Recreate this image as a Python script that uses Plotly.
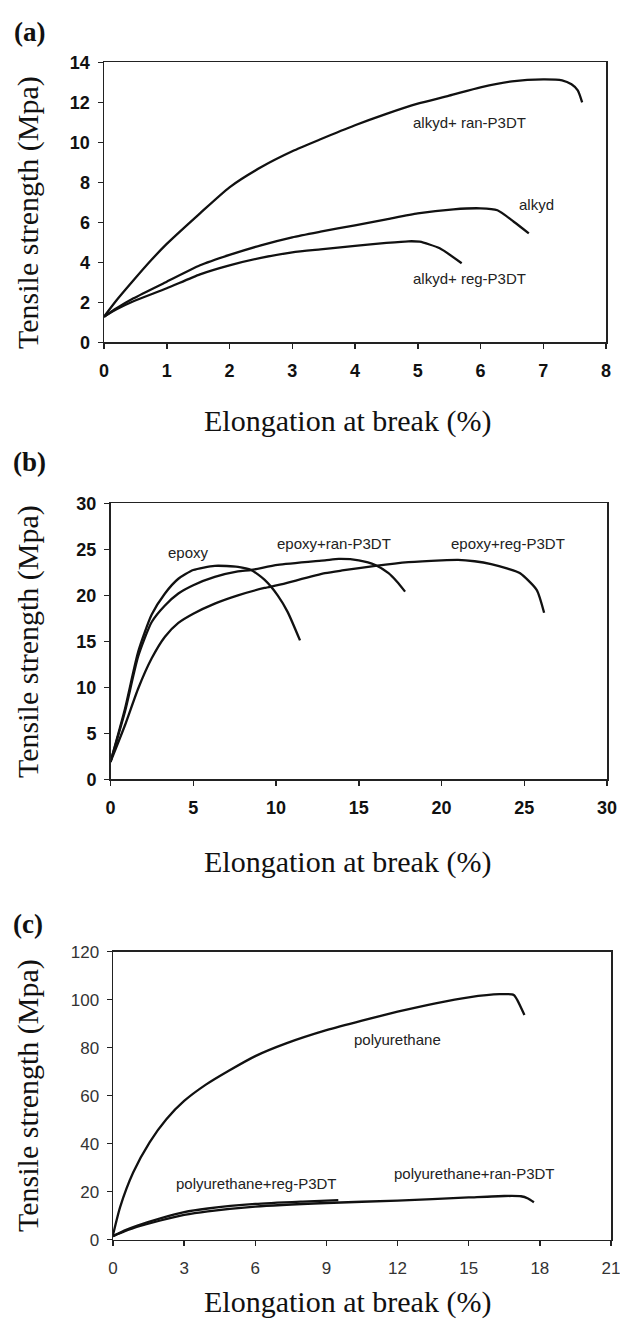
import plotly.graph_objects as go

W, H = 620, 1329

# ---------------- Panel (a) data ----------------
a_ran_x = [0, 0.2, 0.47, 0.75, 1.0, 1.53, 2.0, 2.5, 3.0, 3.45, 4.0, 4.5, 5.0, 5.5, 6.0, 6.5, 7.0, 7.3, 7.45, 7.55, 7.62]
a_ran_y = [1.28, 2.1, 3.1, 4.1, 4.92, 6.45, 7.75, 8.75, 9.55, 10.15, 10.85, 11.42, 11.93, 12.33, 12.75, 13.05, 13.15, 13.1, 12.9, 12.6, 12.0]
a_alk_x = [0, 0.2, 0.47, 1.0, 1.53, 2.0, 2.5, 3.0, 3.45, 4.0, 4.5, 5.0, 5.57, 6.0, 6.27, 6.53, 6.77]
a_alk_y = [1.28, 1.7, 2.2, 3.03, 3.85, 4.37, 4.85, 5.25, 5.53, 5.85, 6.15, 6.45, 6.65, 6.7, 6.6, 6.03, 5.45]
a_reg_x = [0, 0.2, 0.47, 1.0, 1.53, 2.0, 2.5, 3.0, 3.45, 4.0, 4.5, 4.85, 5.03, 5.35, 5.7]
a_reg_y = [1.28, 1.65, 2.05, 2.7, 3.4, 3.85, 4.22, 4.5, 4.65, 4.82, 4.97, 5.05, 5.03, 4.7, 3.95]
a_labels = ["alkyd+ ran-P3DT", "alkyd", "alkyd+ reg-P3DT"]
a_label_x = [5.82, 6.89, 5.82]
a_label_y = [11.0, 6.9, 3.2]
a_xticks = [0, 1, 2, 3, 4, 5, 6, 7, 8]
a_yticks = [0, 2, 4, 6, 8, 10, 12, 14]

# ---------------- Panel (b) data ----------------
b_epo_x = [0, 0.88, 1.68, 2.49, 3.29, 4.1, 5.0, 6.3, 7.7, 8.5, 9.3, 10.1, 10.7, 11.45]
b_epo_y = [1.9, 7.7, 13.9, 17.9, 20.2, 21.8, 22.75, 23.2, 23.1, 22.75, 21.7, 20.0, 18.2, 15.1]
b_ran_x = [0, 0.88, 1.68, 2.49, 3.29, 4.1, 5.0, 6.3, 7.7, 8.5, 10.1, 12.96, 13.8, 15, 16, 16.8, 17.3, 17.8]
b_ran_y = [1.9, 7.4, 13.4, 17.1, 18.9, 20.2, 21.1, 22.0, 22.6, 22.75, 23.3, 23.8, 23.95, 23.8, 23.3, 22.4, 21.5, 20.4]
b_reg_x = [0, 0.88, 1.68, 2.49, 3.29, 4.1, 5.0, 6.3, 7.7, 9.3, 10.1, 12.96, 14, 16, 18, 20, 21, 22, 23, 24, 24.75, 25.75, 26.2]
b_reg_y = [1.9, 5.9, 9.9, 13.15, 15.5, 17.0, 18.0, 19.1, 20.0, 20.8, 21.1, 22.4, 22.7, 23.2, 23.6, 23.8, 23.85, 23.7, 23.4, 22.9, 22.4, 20.6, 18.1]
b_labels = ["epoxy", "epoxy+ran-P3DT", "epoxy+reg-P3DT"]
b_label_x = [4.72, 13.5, 24.0]
b_label_y = [24.6, 25.6, 25.6]
b_xticks = [0, 5, 10, 15, 20, 25, 30]
b_yticks = [0, 5, 10, 15, 20, 25, 30]

# ---------------- Panel (c) data ----------------
c_pu_x = [0, 0.3, 0.85, 1.55, 2.25, 3.0, 3.9, 4.9, 6.0, 7.3, 9.0, 10.5, 12.0, 13.6, 15.0, 16.3, 16.9, 17.05, 17.35]
c_pu_y = [2, 13.6, 28, 40.7, 50.2, 57.8, 64.5, 70.5, 76.5, 81.8, 87.3, 91.3, 95.0, 98.5, 101.0, 102.3, 102.0, 99.8, 93.6]
c_ran_x = [0, 0.5, 1, 2, 3, 4, 6, 9, 12, 15, 16.5, 17.2, 17.5, 17.75]
c_ran_y = [1.5, 3.5, 5.3, 8.0, 10.3, 11.8, 13.8, 15.3, 16.3, 17.6, 18.2, 18.1, 17.2, 15.6]
c_reg_x = [0, 0.5, 1, 2, 3, 4, 6, 8, 9.5]
c_reg_y = [1.5, 3.9, 5.8, 8.9, 11.5, 13.0, 14.9, 15.9, 16.5]
c_labels = ["polyurethane", "polyurethane+reg-P3DT", "polyurethane+ran-P3DT"]
c_label_x = [12.0, 6.06, 15.25]
c_label_y = [83.4, 23.4, 27.5]
c_xticks = [0, 3, 6, 9, 12, 15, 18, 21]
c_yticks = [0, 20, 40, 60, 80, 100, 120]

panel_names = ["(a)", "(b)", "(c)"]
y_title = "Tensile strength (Mpa)"
x_title = "Elongation at break (%)"

# ---------------- layout geometry (pixels) ----------------
boxes = [(104, 606, 62.3, 342.3), (110.5, 607, 503.3, 779.3), (113, 611, 951.7, 1239.7)]
ranges = [([0, 8], [0, 14]), ([0, 30], [0, 30]), ([0, 21], [0, 120])]
ticks = [(a_xticks, a_yticks), (b_xticks, b_yticks), (c_xticks, c_yticks)]
panel_label_pos = [(29, 32), (29, 462), (28, 924)]
ytitle_pos = [(28, 213), (28, 642), (28, 1096)]
xtitle_pos = [(347, 421), (347, 862), (347, 1302)]

def px(x):
    return x / W

def py(y):
    return 1 - y / H

fig = go.Figure()
line = dict(color="#111111", width=2.3)
series = [
    [(a_ran_x, a_ran_y), (a_alk_x, a_alk_y), (a_reg_x, a_reg_y)],
    [(b_epo_x, b_epo_y), (b_ran_x, b_ran_y), (b_reg_x, b_reg_y)],
    [(c_pu_x, c_pu_y), (c_ran_x, c_ran_y), (c_reg_x, c_reg_y)],
]
for i, group in enumerate(series):
    sfx = "" if i == 0 else str(i + 1)
    for xs, ys in group:
        fig.add_trace(go.Scatter(x=xs, y=ys, mode="lines", line=dict(line, shape="spline", smoothing=0.6),
                                 xaxis="x" + sfx, yaxis="y" + sfx, showlegend=False, hoverinfo="skip",
                                 cliponaxis=False))

bold_tick = dict(family="Liberation Sans, Arial, sans-serif", size=18, color="#111111", weight="bold")
thin_tick = dict(family="Liberation Sans, Arial, sans-serif", size=17, color="#333333")
layout = {}
for i in range(3):
    sfx = "" if i == 0 else str(i + 1)
    l, r, t, b = boxes[i]
    tf = bold_tick if i < 2 else thin_tick
    common = dict(showline=True, mirror=True, linecolor="#222222", linewidth=1.5,
                  showgrid=False, zeroline=False, ticks="outside", ticklen=5, tickwidth=1.5,
                  tickcolor="#222222", tickfont=tf, fixedrange=True, automargin=False,
                  ticklabeloverflow="allow")
    layout["xaxis" + sfx] = dict(common, domain=[px(l), px(r)], range=ranges[i][0], tickvals=ticks[i][0],
                                 anchor="y" + sfx, ticklabelstandoff=7)
    layout["yaxis" + sfx] = dict(common, domain=[py(b), py(t)], range=ranges[i][1], tickvals=ticks[i][1],
                                 anchor="x" + sfx, ticklabelstandoff=4)

fig.update_layout(**layout)
fig.update_layout(width=W, height=H, margin=dict(l=0, r=0, t=0, b=0, autoexpand=False),
                  paper_bgcolor="white", plot_bgcolor="white", showlegend=False)

serif = "Liberation Serif, Times New Roman, serif"
annos = []
label_sets = [(a_labels, a_label_x, a_label_y), (b_labels, b_label_x, b_label_y), (c_labels, c_label_x, c_label_y)]
for i in range(3):
    sfx = "" if i == 0 else str(i + 1)
    labs, lx, ly = label_sets[i]
    for t, x, y in zip(labs, lx, ly):
        annos.append(dict(text=t, x=x, y=y, xref="x" + sfx, yref="y" + sfx, showarrow=False,
                          xanchor="center", yanchor="middle",
                          font=dict(family="Liberation Sans, Arial, sans-serif", size=15, color="#222222")))
    annos.append(dict(text="<b>" + panel_names[i] + "</b>", x=px(panel_label_pos[i][0]), y=py(panel_label_pos[i][1]),
                      xref="paper", yref="paper", showarrow=False, xanchor="center", yanchor="middle",
                      font=dict(family=serif, size=27, color="#111111")))
    annos.append(dict(text=y_title, x=px(ytitle_pos[i][0]), y=py(ytitle_pos[i][1]), textangle=-90,
                      xref="paper", yref="paper", showarrow=False, xanchor="center", yanchor="middle",
                      font=dict(family=serif, size=30, color="#111111")))
    annos.append(dict(text=x_title, x=px(xtitle_pos[i][0]), y=py(xtitle_pos[i][1]),
                      xref="paper", yref="paper", showarrow=False, xanchor="center", yanchor="middle",
                      font=dict(family=serif, size=30, color="#111111")))
fig.update_layout(annotations=annos)

fig.write_html("out.html", config={"displayModeBar": False, "staticPlot": True},
               post_script="document.body.style.margin='0';document.body.style.overflow='hidden';")
